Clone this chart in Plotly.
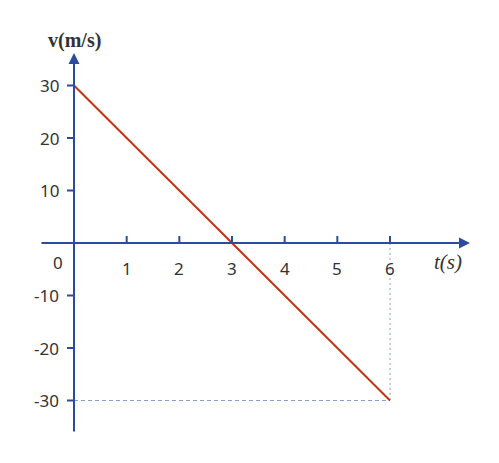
import plotly.graph_objects as go

# data
t_vals = [0, 6]
v_vals = [30, -30]
x_ticks = [1, 2, 3, 4, 5, 6]
x_tick_labels = ["1", "2", "3", "4", "5", "6"]
y_ticks = [30, 20, 10, -10, -20, -30]
y_tick_labels = ["30", "20", "10", "-10", "-20", "-30"]
end_t, end_v = 6, -30

AX = "#2b4c9b"
RED = "#c4340f"
DASH = "#8f9bd3"
TXT = "#333333"

W, H = 499, 463
OFF = 8  # page body margin
px_x = 316 / 6.0   # px per unit x
px_y = 315 / 60.0  # px per unit y
x0p, y0p = 74 - OFF, 243 - OFF
xr = [-x0p / px_x, (W - x0p) / px_x]
yr = [-(H - y0p) / px_y, y0p / px_y]


def PX(p):
    return (p - OFF - x0p) / px_x


def PY(p):
    return (y0p - (p - OFF)) / px_y


fig = go.Figure()

# dashed guides
fig.add_trace(go.Scatter(x=[0, end_t], y=[end_v, end_v], mode="lines",
                         line=dict(color=DASH, width=1, dash="4px,3px"), hoverinfo="skip"))
fig.add_trace(go.Scatter(x=[end_t, end_t], y=[0, end_v], mode="lines",
                         line=dict(color=DASH, width=1, dash="2px,3px"), hoverinfo="skip"))
# main line
fig.add_trace(go.Scatter(x=t_vals, y=v_vals, mode="lines",
                         line=dict(color=RED, width=2), hoverinfo="skip"))

# axes with arrows
fig.add_annotation(x=PX(470), y=0, ax=PX(40), ay=0, xref="x", yref="y", axref="x", ayref="y",
                   showarrow=True, arrowhead=2, arrowsize=1.1, arrowwidth=2, arrowcolor=AX, text="")
fig.add_annotation(x=0, y=PY(53), ax=0, ay=PY(433), xref="x", yref="y", axref="x", ayref="y",
                   showarrow=True, arrowhead=2, arrowsize=1.1, arrowwidth=2, arrowcolor=AX, text="")

# ticks
tick_x_len = 7 / px_y
for xt in x_ticks:
    fig.add_shape(type="line", x0=xt, x1=xt, y0=0, y1=tick_x_len, xref="x", yref="y",
                  line=dict(color=AX, width=2))
tick_y_len = 7 / px_x
for yt in y_ticks:
    fig.add_shape(type="line", x0=-tick_y_len, x1=0, y0=yt, y1=yt, xref="x", yref="y",
                  line=dict(color=AX, width=2))

font = dict(family="Noto Sans, sans-serif", size=17, color=TXT)
for xt, lab in zip(x_ticks, x_tick_labels):
    fig.add_annotation(x=xt, y=PY(268), text=lab, showarrow=False, xref="x", yref="y",
                       font=font, xanchor="center", yanchor="middle")
for yt, lab in zip(y_ticks, y_tick_labels):
    fig.add_annotation(x=PX(61), y=yt, text=lab, showarrow=False, xref="x", yref="y",
                       font=font, xanchor="right", yanchor="middle")
fig.add_annotation(x=PX(58), y=PY(262), text="0", showarrow=False, xref="x", yref="y",
                   font=font, xanchor="center", yanchor="middle")

# axis titles
fig.add_annotation(x=PX(74), y=PY(40), text="<b>v(m/s)</b>", showarrow=False, xref="x", yref="y",
                   font=dict(family="Liberation Serif, serif", size=20, color=TXT),
                   xanchor="center", yanchor="middle")
fig.add_annotation(x=PX(448), y=PY(262), text="<i>t(s)</i>", showarrow=False,
                   xref="x", yref="y",
                   font=dict(family="Liberation Serif, serif", size=21, color=TXT),
                   xanchor="center", yanchor="middle")

fig.update_layout(
    width=W, height=H, margin=dict(l=0, r=0, t=0, b=0),
    paper_bgcolor="white", plot_bgcolor="white", showlegend=False,
    xaxis=dict(range=xr, visible=False, fixedrange=True),
    yaxis=dict(range=yr, visible=False, fixedrange=True),
)
fig.write_html("out.html")
